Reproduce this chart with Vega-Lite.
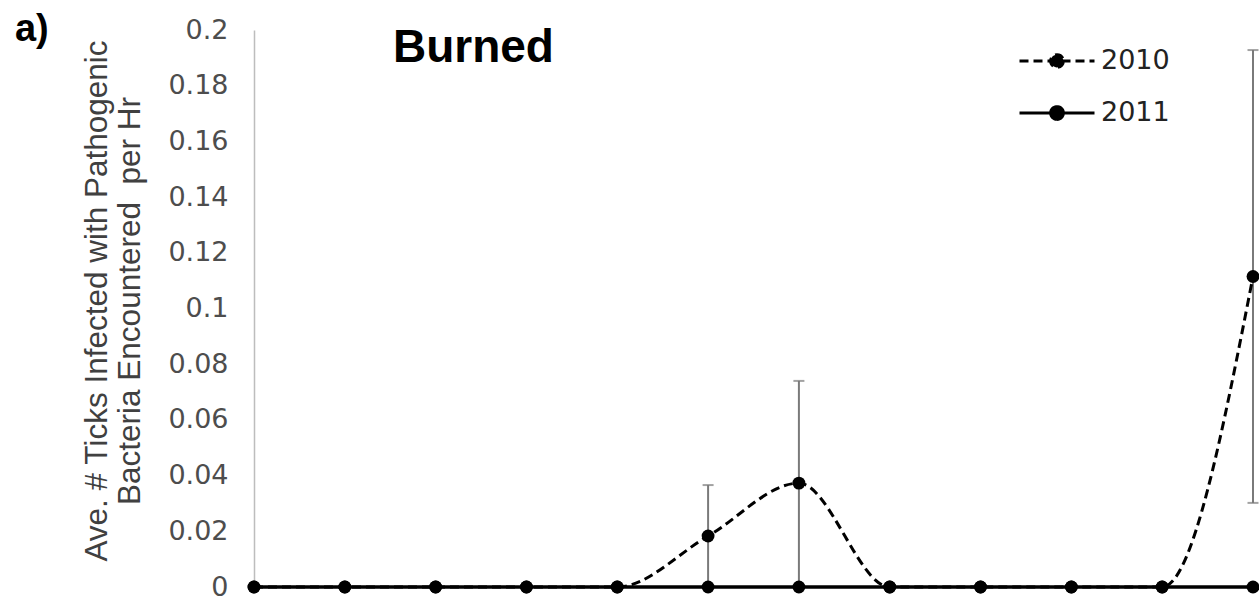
{
  "$schema": "https://vega.github.io/schema/vega-lite/v6.json",
  "width": 999,
  "height": 557,
  "autosize": {"type": "none"},
  "padding": {"left": 254, "top": 30, "right": 6, "bottom": 26},
  "background": "white",
  "config": {"view": {"stroke": null}},
  "datasets": {
    "series": [
      {"idx": 1, "year": "2010", "value": 0},
      {"idx": 2, "year": "2010", "value": 0},
      {"idx": 3, "year": "2010", "value": 0},
      {"idx": 4, "year": "2010", "value": 0},
      {"idx": 5, "year": "2010", "value": 0},
      {"idx": 6, "year": "2010", "value": 0.0183},
      {"idx": 7, "year": "2010", "value": 0.0373},
      {"idx": 8, "year": "2010", "value": 0},
      {"idx": 9, "year": "2010", "value": 0},
      {"idx": 10, "year": "2010", "value": 0},
      {"idx": 11, "year": "2010", "value": 0},
      {"idx": 12, "year": "2010", "value": 0.1115},
      {"idx": 1, "year": "2011", "value": 0},
      {"idx": 2, "year": "2011", "value": 0},
      {"idx": 3, "year": "2011", "value": 0},
      {"idx": 4, "year": "2011", "value": 0},
      {"idx": 5, "year": "2011", "value": 0},
      {"idx": 6, "year": "2011", "value": 0},
      {"idx": 7, "year": "2011", "value": 0},
      {"idx": 8, "year": "2011", "value": 0},
      {"idx": 9, "year": "2011", "value": 0},
      {"idx": 10, "year": "2011", "value": 0},
      {"idx": 11, "year": "2011", "value": 0},
      {"idx": 12, "year": "2011", "value": 0}
    ],
    "err": [
      {"idx": 6, "lo": 0, "hi": 0.0366},
      {"idx": 7, "lo": 0, "hi": 0.074},
      {"idx": 12, "lo": 0.0302, "hi": 0.1928}
    ],
    "labels": [
      {"label": "Burned"}
    ],
    "panel": [
      {"label": "a)"}
    ],
    "ytitle": [
      {"label": "Ave. # Ticks Infected with Pathogenic\nBacteria Encountered\u00a0 per Hr"}
    ]
  },
  "layer": [
    {
      "data": {"name": "err"},
      "mark": {
        "type": "errorbar",
        "ticks": {"color": "#7a7a7a", "size": 11, "thickness": 2},
        "rule": {"color": "#7a7a7a", "strokeWidth": 2}
      },
      "encoding": {
        "x": {"field": "idx", "type": "quantitative", "scale": {"domain": [1, 12], "nice": false, "zero": false}, "axis": null},
        "y": {"field": "lo", "type": "quantitative", "scale": {"domain": [0, 0.2], "nice": false}},
        "y2": {"field": "hi"}
      }
    },
    {
      "data": {"name": "series"},
      "transform": [{"filter": "datum.year == '2010'"}],
      "mark": {"type": "line", "interpolate": "monotone", "color": "black", "strokeWidth": 3},
      "encoding": {
        "x": {"field": "idx", "type": "quantitative", "scale": {"domain": [1, 12], "nice": false, "zero": false}, "axis": null},
        "y": {"field": "value", "type": "quantitative", "scale": {"domain": [0, 0.2], "nice": false}},
        "strokeDash": {
          "field": "year", "type": "nominal",
          "scale": {"domain": ["2010", "2011"], "range": [[9, 5], [1, 0]]},
          "legend": {
            "title": null,
            "orient": "none",
            "legendX": 764,
            "legendY": -8,
            "symbolType": "M-1,0H1M0.17,0A0.17,0.17,0,1,1,-0.17,0A0.17,0.17,0,1,1,0.17,0Z",
            "symbolSize": 5625,
            "symbolStrokeWidth": 3,
            "symbolFillColor": "black",
            "symbolStrokeColor": "black",
            "labelFont": "DejaVu Sans",
            "labelFontSize": 27,
            "labelColor": "#222222",
            "labelOffset": 5,
            "rowPadding": 0
          }
        }
      }
    },
    {
      "data": {"name": "series"},
      "transform": [{"filter": "datum.year == '2011'"}],
      "mark": {"type": "line", "color": "black", "strokeWidth": 3.5},
      "encoding": {
        "x": {"field": "idx", "type": "quantitative", "scale": {"domain": [1, 12], "nice": false, "zero": false}, "axis": null},
        "y": {"field": "value", "type": "quantitative", "scale": {"domain": [0, 0.2], "nice": false}},
        "strokeDash": {"field": "year", "type": "nominal"}
      }
    },
    {
      "data": {"name": "series"},
      "mark": {"type": "circle", "color": "black", "opacity": 1, "size": 165},
      "encoding": {
        "x": {"field": "idx", "type": "quantitative", "scale": {"domain": [1, 12], "nice": false, "zero": false}, "axis": null},
        "y": {
          "field": "value", "type": "quantitative",
          "scale": {"domain": [0, 0.2], "nice": false},
          "axis": {
            "title": null,
            "values": [0, 0.02, 0.04, 0.06, 0.08, 0.1, 0.12, 0.14, 0.16, 0.18, 0.2],
            "format": ".2~f",
            "grid": false,
            "ticks": false,
            "tickSize": 0,
            "labelPadding": 26,
            "labelFont": "DejaVu Sans",
            "labelFontSize": 27,
            "labelColor": "#4d4d4d",
            "labelFlush": false,
            "labelOverlap": false,
            "labelBaseline": "middle",
            "domainColor": "#bdbdbd",
            "domainWidth": 1.5
          }
        }
      }
    },
    {
      "data": {"name": "ytitle"},
      "mark": {"type": "text", "angle": 270, "align": "center", "baseline": "alphabetic", "lineBreak": "\n", "lineHeight": 33, "font": "Liberation Sans", "fontSize": 31.5, "color": "#404040"},
      "encoding": {
        "text": {"field": "label"},
        "x": {"datum": -0.6186, "type": "quantitative", "scale": {"domain": [1, 12], "nice": false, "zero": false}},
        "y": {"datum": 0.1027, "type": "quantitative", "scale": {"domain": [0, 0.2], "nice": false}}
      }
    },
    {
      "data": {"name": "labels"},
      "mark": {"type": "text", "align": "left", "baseline": "alphabetic", "font": "Liberation Sans", "fontWeight": "bold", "fontSize": 46, "color": "black"},
      "encoding": {
        "text": {"field": "label"},
        "x": {"datum": 2.53, "type": "quantitative", "scale": {"domain": [1, 12], "nice": false, "zero": false}},
        "y": {"datum": 0.1885, "type": "quantitative", "scale": {"domain": [0, 0.2], "nice": false}}
      }
    },
    {
      "data": {"name": "panel"},
      "mark": {"type": "text", "align": "left", "baseline": "alphabetic", "font": "Liberation Sans", "fontWeight": "bold", "fontSize": 38, "color": "black"},
      "encoding": {
        "text": {"field": "label"},
        "x": {"datum": -1.632, "type": "quantitative", "scale": {"domain": [1, 12], "nice": false, "zero": false}},
        "y": {"datum": 0.1961, "type": "quantitative", "scale": {"domain": [0, 0.2], "nice": false}}
      }
    }
  ]
}
